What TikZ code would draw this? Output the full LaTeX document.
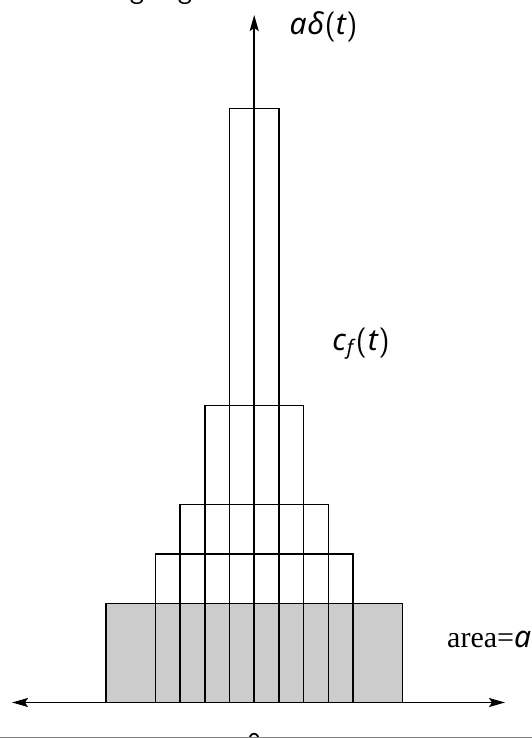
\documentclass[tikz,border=0pt]{standalone}
\usepackage{fontspec}
\newfontfamily\timesfont{Liberation Serif}
\newfontfamily\labfont{Noto Sans}
\usetikzlibrary{arrows.meta}
\newcommand{\up}[1]{{\sffamily\upshape #1}}
\begin{document}
\begin{tikzpicture}[x=1pt,y=-1pt,
  >={Stealth[length=16pt,width=9pt,inset=3pt]},
  bar/.style={draw=black, line width=1.6pt},
  axis/.style={line width=1.6pt},
  lab/.style={font=\fontsize{30}{36}\selectfont\labfont\itshape, inner sep=0pt},
  frag/.style={font=\fontsize{30}{36}\selectfont\sffamily, inner sep=0pt}]
\useasboundingbox (0,0) rectangle (532,738);
\def\cx{254.2}
\def\u{24.7}
\def\base{702.5}
% gray base pulse
\fill[gray!40] (\cx-6*\u,603.5) rectangle (\cx+6*\u,\base);
\draw[bar] (\cx-6*\u,603.5) rectangle (\cx+6*\u,\base);
\draw[bar] (\cx-4*\u,554) rectangle (\cx+4*\u,\base);
\draw[bar] (\cx-3*\u,504.5) rectangle (\cx+3*\u,\base);
\draw[bar] (\cx-2*\u,405.5) rectangle (\cx+2*\u,\base);
\draw[bar] (\cx-1*\u,108.5) rectangle (\cx+1*\u,\base);
% axes
\coordinate (xl) at (12,\base);
\coordinate (xr) at (505,\base);
\coordinate (o) at (\cx,\base);
\coordinate (yt) at (\cx,15);
\draw[axis,<->] (xl) -- (xr);
\draw[axis,->] (o) -- (yt);
% labels
\node[lab,anchor=base] (ad) at (323.5,35) {a\kern0.5ptδ\kern1pt\up{(}t\kern0.5pt\up{)}};
\node[lab,anchor=base] (cf) at (361,350.5) {c\kern1pt\raisebox{-0.12em}{\fontsize{20}{20}\selectfont f}\kern2.5pt\up{(}\kern1ptt\kern1pt\up{)}};
\node[anchor=base west,inner sep=0pt] (ar) at (447,647) {\fontsize{30}{36}\selectfont\timesfont area=\labfont\itshape a};
% clipped fragments of surrounding page
\node[frag,anchor=base] (g1) at (137,-1.5) {g};
\node[frag,anchor=base] (g2) at (185,-1.5) {g};
\node[frag,anchor=north] (zero) at (\cx,733) {0};
\coordinate (bl) at (0,737.5);
\coordinate (br) at (532,737.5);
\draw[gray,line width=1.2pt] (bl) -- (br);
\end{tikzpicture}
\end{document}
